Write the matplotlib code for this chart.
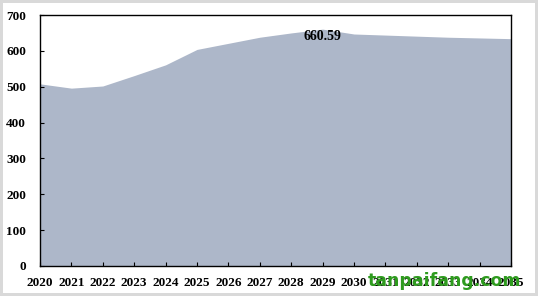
import matplotlib
matplotlib.use("Agg")
import matplotlib.pyplot as plt

years = [2020, 2021, 2022, 2023, 2024, 2025, 2026, 2027, 2028, 2029,
         2030, 2031, 2032, 2033, 2034, 2035]
values = [508, 496, 502, 531, 561, 604, 621, 638, 650, 660.59,
          647, 644, 641, 638, 636, 634]
yticks = [0, 100, 200, 300, 400, 500, 600, 700]
peak_label = "660.59"

plt.rcParams['font.family'] = ['Liberation Serif', 'DejaVu Serif']

fig = plt.figure(figsize=(5.38, 2.96), dpi=100)
fig.patch.set_facecolor('white')
fig.patch.set_edgecolor('#d9d9d9')
fig.patch.set_linewidth(3)

ax = fig.add_axes([40/538, 30/296, 471/538, 251/296])
ax.fill_between(years, values, 0, color='#adb7c9', linewidth=0)
ax.set_xlim(years[0], years[-1])
ax.set_ylim(0, 700)
ax.set_yticks(yticks)
ax.set_xticks(years)
ax.set_xticklabels([str(y) for y in years], fontweight='bold', fontsize=9.5)
ax.set_yticklabels([str(v) for v in yticks], fontweight='bold', fontsize=9.5)
ax.tick_params(axis='both', direction='in', length=3, width=0.8, color='black')
ax.tick_params(axis='x', pad=8)
ax.tick_params(axis='y', pad=10)
for s in ax.spines.values():
    s.set_linewidth(1.0)
    s.set_color('black')

i = values.index(max(values))
ax.annotate(peak_label, (years[i], values[i]), xytext=(0, -5), textcoords='offset points',
            ha='center', va='center', fontweight='bold', fontsize=10)

fig.text(368/538, 15/296, "tanpaifang.com", color='#2e9b1e', fontsize=12.5,
         fontweight='bold', family=['DejaVu Sans'], ha='left', va='center')

fig.savefig('out.png', dpi=100)
